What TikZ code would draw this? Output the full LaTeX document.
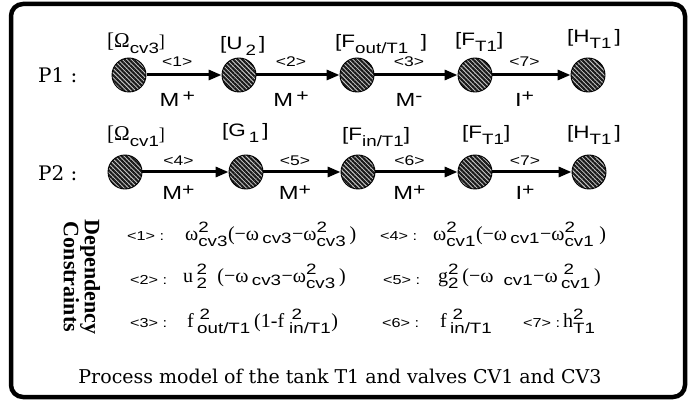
\documentclass[tikz,border=0pt]{standalone}
\usepackage{fontspec}
\usepackage{amsmath}
\setmainfont{DejaVu Serif}
\setsansfont{Liberation Sans}[FakeStretch=1.25]
\newfontfamily\fml{Liberation Serif}
\usetikzlibrary{arrows.meta, patterns.meta}
\newcommand{\lsub}[1]{\raisebox{-6pt}{\fontsize{15}{15}\selectfont #1}}
\newcommand{\hi}[1]{\raisebox{5pt}{\fontsize{17}{17}\selectfont #1}}
\newcommand{\scr}[1]{\hbox{\sffamily\fontsize{15}{15}\selectfont #1}}
\newcommand{\ssc}[2]{$^{\scr{#1}}_{\scr{#2}}$}
\newcommand{\sbc}[1]{$_{\scr{#1}}$}
\newcommand{\Om}{{\fml\fontsize{21}{21}\selectfont[Ω}}
\tikzset{
  every picture/.style={x=1pt, y=-1pt},
  frame/.style={draw=black, line width=4.5pt, rounded corners=12pt},
  tank/.style={circle, draw=black, line width=0.9pt, minimum size=34pt, inner sep=0pt, preaction={fill=black!20}, pattern={Lines[angle=-45, distance=3.2pt, line width=2.1pt]}, pattern color=black!90},
  flow/.style={-{Triangle[length=13pt, width=10pt]}, line width=3pt},
  var/.style={font=\sffamily\fontsize{18}{18}\selectfont, anchor=base west, inner sep=0pt},
  tag/.style={font=\sffamily\fontsize{14}{14}\selectfont, anchor=base, inner sep=0pt},
  qual/.style={font=\sffamily\fontsize{19}{19}\selectfont, anchor=base, inner sep=0pt},
  pathlbl/.style={font=\fontsize{20}{20}\selectfont, anchor=base west, inner sep=0pt},
  ctag/.style={font=\sffamily\fontsize{13}{13}\selectfont, anchor=base west, inner sep=0pt},
  formula/.style={font=\fml\fontsize{20}{20}\selectfont, anchor=base west, inner sep=0pt},
  heading/.style={font=\fml\bfseries\fontsize{22}{21}\selectfont, align=center, rotate=-90, inner sep=0pt},
  caption/.style={font=\fontsize{19}{19}\selectfont, anchor=base, inner sep=0pt},
}
\begin{document}
\begin{tikzpicture}
  \useasboundingbox (0,0) rectangle (699,401);
  \draw[frame] (11,4) rectangle (685,397);
  % the two causal paths
  \node[pathlbl] (p1) at (38,83) {P1 :};
  \node[pathlbl] (p2) at (38,180) {P2 :};
  \foreach \i/\x in {1/129, 2/239, 3/357, 4/475, 5/588}
    \node[tank] (a\i) at (\x,75) {};
  \foreach \i/\x in {1/125, 2/246, 3/358, 4/475, 5/589}
    \node[tank] (b\i) at (\x,172) {};
  \foreach \n/\x/\y/\t in {va1/107/48/{\Om\lsub{cv3}{\fml]}}, va2/220/50/{[U\,\lsub{2}\,]}, va3/335/48/{[F\lsub{out/T1}\ \ ]},
      va4/455/46/{[F\lsub{T1}]}, va5/567/43/{[H\lsub{T1}\,]},
      vb1/107/141/{\Om\lsub{cv1}{\fml]}}, vb2/222/137/{[G\,\lsub{1}\,]}, vb3/342/141/{[F\lsub{in/T1}]},
      vb4/462/139/{[F\lsub{T1}]}, vb5/567/139/{[H\lsub{T1}\,]}}
    \node[var] (\n) at (\x,\y) {\t};
  \foreach \s/\e/\n/\q in {a1/a2/1/{M\,\hi{+}}, a2/a3/2/{M\,\hi{+}}, a3/a4/3/{M\hi{-}}, a4/a5/7/{I\hi{+}}}
    \draw[flow] (\s) -- node[tag, xshift=-7pt, yshift=8pt] (ta\n) {<\n>} node[qual, xshift=-7pt, yshift=-32pt] (qa\n) {\q} (\e);
  \foreach \s/\e/\n/\q in {b1/b2/4/{M\hi{+}}, b2/b3/5/{M\hi{+}}, b3/b4/6/{M\hi{+}}, b4/b5/7/{I\hi{+}}}
    \draw[flow] (\s) -- node[tag, xshift=-7pt, yshift=7pt] (tb\n) {<\n>} node[qual, xshift=-7pt, yshift=-28pt] (qb\n) {\q} (\e);
  % dependency constraints
  \node[heading] (dep) at (82,277) {Dependency\\Constraints};
  \foreach \n/\x/\y/\t in {1/127/240, 4/380/240, 2/130/284, 5/383/284, 3/130/327, 6/382/327, 7/523/327}
    \node[ctag] (k\n) at (\x,\y) {<\n>\ :};
  \node[formula] (c1) at (185,240) {ω\ssc{2}{cv3}(−ω\,\sbc{cv3}−ω\ssc{2}{cv3}\,)};
  \node[formula] (c4) at (433,240) {ω\ssc{2}{cv1}(−ω\,\sbc{cv1}−ω\ssc{2}{cv1}\ )};
  \node[formula] (c2) at (183,282) {u\,\ssc{2}{2}\ \ (−ω\,\sbc{cv3}−ω\ssc{2}{cv3}\,)};
  \node[formula] (c5) at (438,282) {g\ssc{2}{2}\,(−ω\ \ \sbc{cv1}−ω\,\ssc{\,2}{cv1}\,)};
  \node[formula] (c3) at (187,327) {f\,\ssc{\,2}{out/T1}\,(1-f\ \ssc{\,2}{in/T1})};
  \node[formula] (c6) at (440,327) {f\,\ssc{\,2}{in/T1}};
  \node[formula] (c7) at (563,327) {h\ssc{2}{T1}};
  \node[caption] (cap) at (340,383) {Process model of the tank T1 and valves CV1 and CV3};
\end{tikzpicture}
\end{document}
